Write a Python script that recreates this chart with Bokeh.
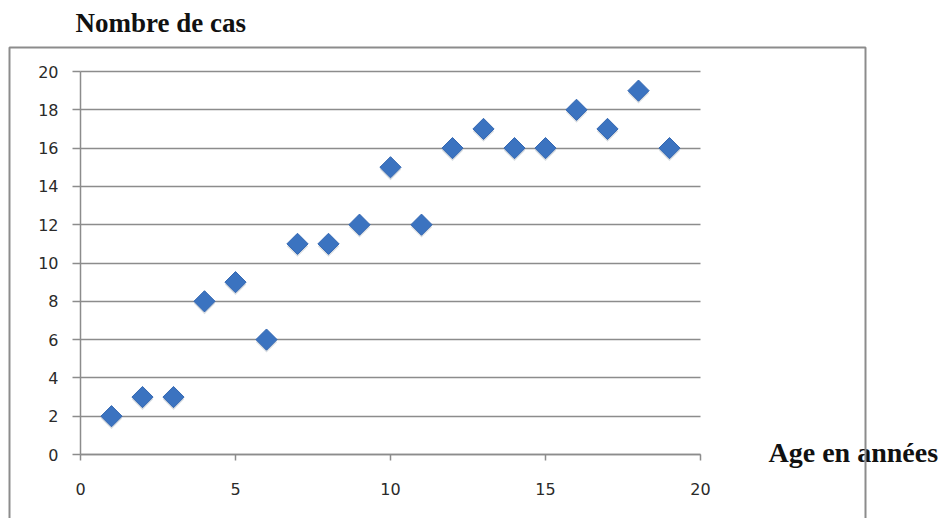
import math
from bokeh.plotting import figure
from bokeh.models import Range1d, FixedTicker, Label, BoxAnnotation, ColumnDataSource
from bokeh.transform import dodge
from bokeh.embed import file_html
from bokeh.resources import INLINE

age = [1, 2, 3, 4, 5, 6, 7, 8, 9, 10, 11, 12, 13, 14, 15, 16, 17, 18, 19]
cas = [2, 3, 3, 8, 9, 6, 11, 11, 12, 15, 12, 16, 17, 16, 16, 18, 17, 19, 16]
x_ticks = [0, 5, 10, 15, 20]
y_ticks = [0, 2, 4, 6, 8, 10, 12, 14, 16, 18, 20]
y_title = "Nombre de cas"
x_title = "Age en années"

# layout (pixels): the frame covers the whole canvas; the data area 0..20 x 0..20
W, H = 940, 518
PX_X0, PX_X1 = 80, 700      # x = 0 and x = 20
PX_Y0, PX_Y1 = 454, 71      # y = 0 and y = 20
sx = (PX_X1 - PX_X0) / 20.0
sy = (PX_Y0 - PX_Y1) / 20.0

src = ColumnDataSource(dict(age=age, cas=cas))

p = figure(width=W, height=H, output_backend="svg", toolbar_location=None,
           x_range=Range1d(-PX_X0 / sx, (W - PX_X0) / sx),
           y_range=Range1d(-(H - PX_Y0) / sy, PX_Y0 / sy),
           min_border=0)
p.title.visible = False
p.outline_line_color = None
p.background_fill_color = "white"
p.border_fill_color = "white"

p.xgrid.visible = False
p.ygrid.ticker = FixedTicker(ticks=y_ticks)
p.ygrid.grid_line_color = "#8c8c8c"
p.ygrid.grid_line_width = 1.5
p.ygrid.bounds = (0, 20)
p.ygrid.cross_bounds = (0, 20)

for ax in (p.xaxis[0], p.yaxis[0]):
    ax.fixed_location = 0
    ax.bounds = (0, 20)
    ax.axis_line_color = "#8c8c8c"
    ax.axis_line_width = 1.5
    ax.major_tick_line_color = "#8c8c8c"
    ax.major_tick_line_width = 1.5
    ax.minor_tick_line_color = None
    ax.major_tick_in = 0
    ax.major_label_text_color = "#2a2a2a"
    ax.major_label_text_font = "DejaVu Sans"

p.xaxis.ticker = FixedTicker(ticks=x_ticks)
p.xaxis.major_tick_out = 6
p.xaxis.major_label_standoff = 22
p.xaxis.major_label_text_font_size = "16px"

p.yaxis.ticker = FixedTicker(ticks=y_ticks)
p.yaxis.major_tick_out = 8
p.yaxis.major_label_standoff = 14
p.yaxis.major_label_text_font_size = "16px"

# shadow
p.scatter(x="age", y=dodge("cas", -0.12, range=p.y_range), source=src, marker="square",
          size=15, angle=math.pi / 4, fill_color="#7f8a99", fill_alpha=0.3, line_color=None)
p.scatter(x="age", y="cas", source=src, marker="square", size=15, angle=math.pi / 4,
          fill_color="#3B73C0", line_color="#3568B2", line_width=1)

p.add_layout(Label(x=75, y=H - 22, x_units="screen", y_units="screen",
                   text=y_title, text_font="Liberation Serif",
                   text_font_style="bold", text_font_size="27px", text_baseline="middle",
                   text_color="#111111"))
p.add_layout(Label(x=768, y=H - 452, x_units="screen", y_units="screen",
                   text=x_title, text_font="Liberation Serif",
                   text_font_style="bold", text_font_size="28px", text_baseline="middle",
                   text_color="#111111"))

box = BoxAnnotation(left=9, right=865, top=H - 47, bottom=-30,
                    left_units="screen", right_units="screen",
                    top_units="screen", bottom_units="screen",
                    fill_alpha=0, line_color="#8c8c8c", line_alpha=1.0, line_width=2)
p.add_layout(box)

open("out.html", "w").write(file_html(p, INLINE))
